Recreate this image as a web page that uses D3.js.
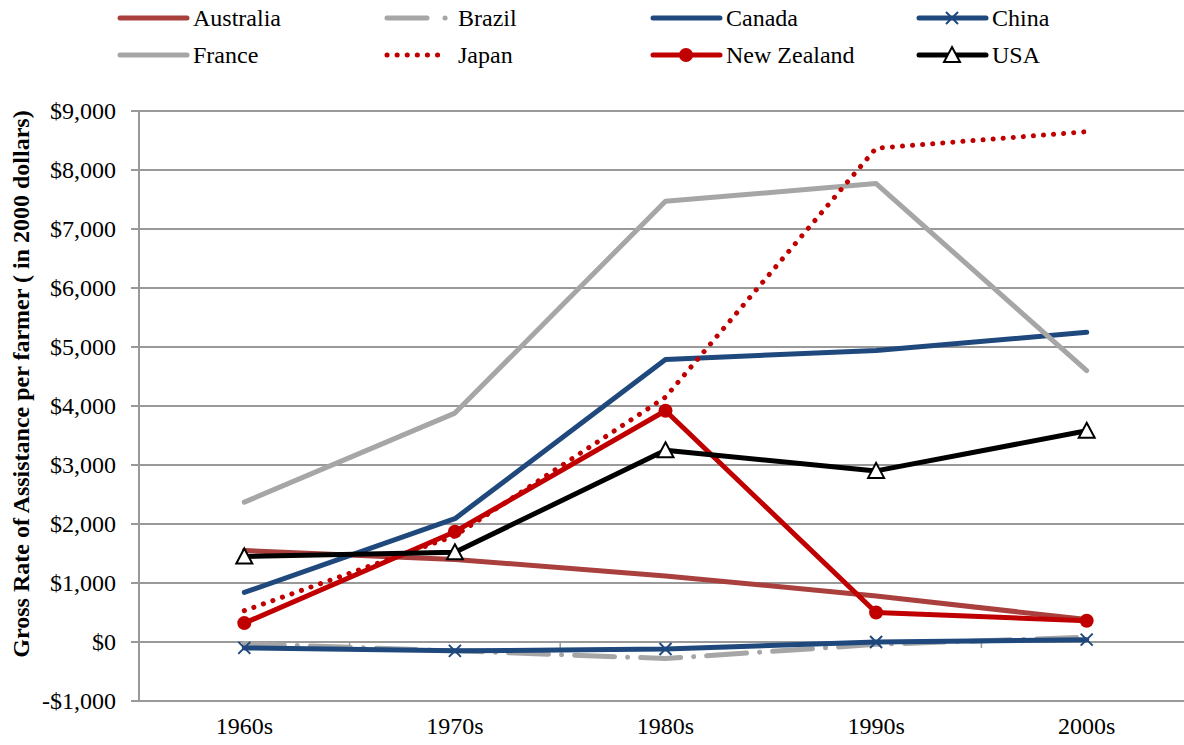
<!DOCTYPE html>
<html>
<head>
<meta charset="utf-8">
<script src="https://cdn.jsdelivr.net/npm/d3@7"></script>
<style>
  body { margin: 0; background: #fff; }
  text { font-family: 'Liberation Serif', 'Times New Roman', 'DejaVu Serif', serif; }
</style>
</head>
<body>
<svg id="chart" width="1184" height="745"></svg>
<script>
var decades = ["1960s", "1970s", "1980s", "1990s", "2000s"];
var yTicks = [-1000, 0, 1000, 2000, 3000, 4000, 5000, 6000, 7000, 8000, 9000];

var australia = [1550, 1400, 1120, 780, 380];
var brazil = [-30, -150, -280, -40, 80];
var canada = [840, 2090, 4790, 4940, 5250];
var china = [-100, -150, -120, 0, 40];
var france = [2370, 3880, 7470, 7770, 4600];
var japan = [530, 1800, 4150, 8370, 8650];
var newZealand = [320, 1870, 3920, 500, 360];
var usa = [1450, 1520, 3250, 2900, 3580];

var series = [
  {name: "Australia", values: australia, color: "#A9403E", dash: null, marker: null},
  {name: "Brazil", values: brazil, color: "#A6A6A6", dash: "40,13,0.1,13", marker: null},
  {name: "Canada", values: canada, color: "#1F497D", dash: null, marker: null},
  {name: "China", values: china, color: "#1F497D", dash: null, marker: "x"},
  {name: "France", values: france, color: "#A6A6A6", dash: null, marker: null},
  {name: "Japan", values: japan, color: "#C00000", dash: "0.1,10", marker: null},
  {name: "New Zealand", values: newZealand, color: "#C00000", dash: null, marker: "circle"},
  {name: "USA", values: usa, color: "#000000", dash: null, marker: "triangle"}
];

var svg = d3.select("#chart");

var x = d3.scaleBand().domain(decades).range([139, 1192]);
var y = d3.scaleLinear().domain([-1000, 9000]).range([701, 111]);
var cx = function(d) { return x(d) + x.bandwidth() / 2; };

// gridlines
svg.append("g").selectAll("line").data(yTicks).enter().append("line")
  .attr("x1", 131).attr("x2", 1192)
  .attr("y1", function(d) { return y(d); }).attr("y2", function(d) { return y(d); })
  .attr("stroke", "#999").attr("stroke-width", 2);

// y axis line
svg.append("line").attr("x1", 139).attr("x2", 139).attr("y1", y(9000)).attr("y2", y(-1000))
  .attr("stroke", "#999").attr("stroke-width", 2);

// y tick labels
svg.append("g").selectAll("text").data(yTicks).enter().append("text")
  .attr("x", 116).attr("y", function(d) { return y(d); })
  .attr("dy", "0.35em").attr("text-anchor", "end")
  .style("font-size", "24px")
  .text(function(d) { return (d < 0 ? "-$" : "$") + d3.format(",")(Math.abs(d)); });

// x axis at zero with ticks at band edges
var edges = decades.map(function(d) { return x(d); }).concat([x.range()[1]]);
svg.append("g").selectAll("line").data(edges.slice(1)).enter().append("line")
  .attr("x1", function(d) { return d; }).attr("x2", function(d) { return d; })
  .attr("y1", y(0)).attr("y2", y(0) + 6)
  .attr("stroke", "#999").attr("stroke-width", 1.5);

svg.append("g").selectAll("text").data(decades).enter().append("text")
  .attr("x", cx).attr("y", 726).attr("dy", "0.35em")
  .attr("text-anchor", "middle").style("font-size", "24px")
  .text(function(d) { return d; });

// y axis title
svg.append("text")
  .attr("transform", "translate(21,384) rotate(-90)")
  .attr("text-anchor", "middle").attr("dy", "0.35em")
  .style("font-size", "24px").style("font-weight", "bold")
  .text("Gross Rate of Assistance per farmer ( in 2000 dollars)");

var line = d3.line()
  .x(function(d, i) { return cx(decades[i]); })
  .y(function(d) { return y(d); });

function drawMarker(g, type, color, px, py) {
  if (type == "x") {
    g.append("path")
      .attr("d", "M" + (px - 6) + "," + (py - 6) + "L" + (px + 6) + "," + (py + 6) +
                 "M" + (px - 6) + "," + (py + 6) + "L" + (px + 6) + "," + (py - 6))
      .attr("stroke", color).attr("stroke-width", 2).attr("fill", "none");
  } else if (type == "circle") {
    g.append("circle").attr("cx", px).attr("cy", py).attr("r", 7).attr("fill", color);
  } else if (type == "triangle") {
    g.append("path")
      .attr("d", "M" + px + "," + (py - 8) + "L" + (px + 8) + "," + (py + 7) + "L" + (px - 8) + "," + (py + 7) + "Z")
      .attr("fill", "#fff").attr("stroke", color).attr("stroke-width", 2);
  }
}

// series lines
series.forEach(function(s) {
  var g = svg.append("g");
  g.append("path").datum(s.values)
    .attr("d", line)
    .attr("fill", "none")
    .attr("stroke", s.color)
    .attr("stroke-width", 5)
    .attr("stroke-linecap", "round")
    .attr("stroke-linejoin", "round")
    .attr("stroke-dasharray", s.dash);
  if (s.marker) {
    s.values.forEach(function(v, i) {
      drawMarker(g, s.marker, s.color, cx(decades[i]), y(v));
    });
  }
});

// legend
var legX = [120, 387, 653, 919];
var legY = [18, 55];
series.forEach(function(s, i) {
  var lx = legX[i % 4], ly = legY[Math.floor(i / 4)];
  var g = svg.append("g");
  var len = (s.name == "Brazil" || s.name == "Japan") ? 60 : 67;
  g.append("line").attr("x1", lx).attr("x2", lx + len).attr("y1", ly).attr("y2", ly)
    .attr("stroke", s.color).attr("stroke-width", 5)
    .attr("stroke-linecap", "round")
    .attr("stroke-dasharray", s.name == "Brazil" ? "40,18,0.1,20" : s.dash);
  if (s.marker) drawMarker(g, s.marker, s.color, lx + 33, ly);
  g.append("text").attr("x", (s.name == "Brazil" || s.name == "Japan") ? lx + 71 : lx + 73)
    .attr("y", ly).attr("dy", "0.35em")
    .style("font-size", "24px").text(s.name);
});
</script>
</body>
</html>
